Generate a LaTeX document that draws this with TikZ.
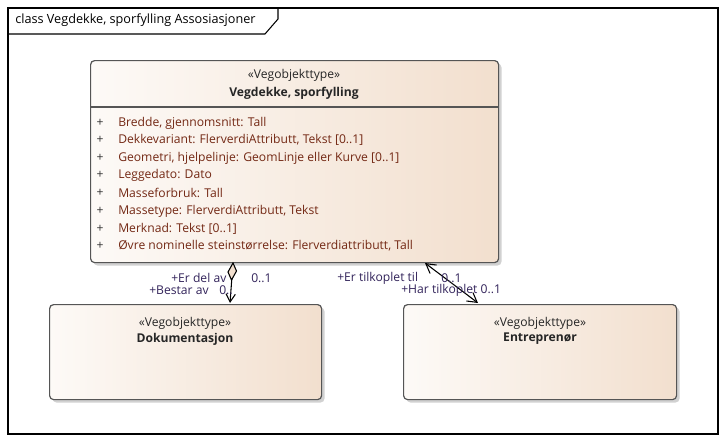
\documentclass[tikz,border=0pt]{standalone}
\usepackage{fontspec}
\setmainfont{Open Sans}
\usetikzlibrary{arrows.meta,shadows,shapes.geometric}
\definecolor{boxr}{RGB}{242,223,206}
\definecolor{boxl}{RGB}{253,250,247}
\definecolor{attrc}{RGB}{115,40,20}
\definecolor{labc}{RGB}{50,35,90}
\definecolor{edgec}{RGB}{85,85,85}
\tikzset{
  classbox/.style={draw=edgec, line width=0.9pt, rounded corners=3pt, left color=boxl, right color=boxr,
    drop shadow={shadow xshift=2.2pt, shadow yshift=-2.2pt, fill=black!30, opacity=0.6}, anchor=north west, inner sep=0pt},
  stereo/.style={font=\fontsize{9.1}{11}\selectfont, text=black!85, inner sep=0pt},
  cname/.style={font=\fontsize{9.1}{11}\bfseries\selectfont, text=black!85, inner sep=0pt},
  attr/.style={font=\fontsize{9.1}{11}\selectfont, text=attrc, anchor=west, inner sep=0pt},
  plus/.style={font=\fontsize{9.1}{11}\selectfont, text=black!80, anchor=center, inner sep=0pt},
  lab/.style={font=\fontsize{9.1}{11}\selectfont, text=labc, anchor=west, inner sep=0pt},
  conn/.style={draw=black, line width=0.8pt},
}
\begin{document}
\begin{tikzpicture}[x=0.75pt,y=-0.75pt]
\useasboundingbox (0,0) rectangle (726,444);
% frame
\draw[black, line width=0.8pt] (8,8) rectangle (718,434);
\draw[black, line width=0.8pt] (8,34) -- (265,34) -- (278,19) -- (278,8);
\node[anchor=west, inner sep=0pt, font=\fontsize{9.5}{11}\selectfont] (title) at (15,20) {class Vegdekke, sporfylling Assosiasjoner};

% main class
\node[classbox, minimum width=306pt, minimum height=151.5pt] (main) at (90,60) {};
\node[stereo] (mst) at (294,75) {«Vegobjekttype»};
\node[cname] (mnm) at (294,93) {Vegdekke, sporfylling};
\draw[edgec, line width=0.8pt] (main.west |- 0,107) -- (main.east |- 0,107);
\foreach \y/\t [count=\i] in {123/{Bredde, gjennomsnitt: Tall},
  140/{Dekkevariant: FlerverdiAttributt, Tekst [0..1]},
  158/{Geometri, hjelpelinje: GeomLinje eller Kurve [0..1]},
  175/{Leggedato: Dato},
  193/{Masseforbruk: Tall},
  211/{Massetype: FlerverdiAttributt, Tekst},
  229/{Merknad: Tekst [0..1]},
  246/{Øvre nominelle steinstørrelse: Flerverdiattributt, Tall}} {
  \node[plus] (p\i) at (100,\y) {+};
  \node[attr] (a\i) at (118,\y) {\t};
}

% Dokumentasjon
\node[classbox, minimum width=204pt, minimum height=71.25pt] (doku) at (49,304) {};
\node[stereo] (dst) at (185,323) {«Vegobjekttype»};
\node[cname] (dnm) at (185,339) {Dokumentasjon};

% Entreprenor
\node[classbox, minimum width=204.75pt, minimum height=71.25pt] (entr) at (403,304) {};
\node[stereo] (est) at (540,323) {«Vegobjekttype»};
\node[cname] (enm) at (540,339) {Entreprenør};

% connector left
\coordinate (c1a) at (233,263);
\coordinate (c1b) at (230,303);
\draw[conn, -{Straight Barb[length=6pt,width=7pt]}] (c1a) -- (c1b);
\draw[line width=0.8pt, fill=boxr] (233,263) -- (236.5,271) -- (231.5,280) -- (228,272) -- cycle;

% connector right
\coordinate (c2a) at (425,263);
\coordinate (c2b) at (478,303);
\draw[conn, {Straight Barb[length=7pt,width=8pt]}-{Straight Barb[length=7pt,width=8pt]}] (c2a) -- (c2b);

% labels
\node[lab] (l1) at (171,278) {+Er del av};
\node[lab] (l2) at (251,278) {0..1};
\node[lab] (l3) at (149,290) {+Bestar av};
\node[lab] (l4) at (219,290) {0..};
\node[lab] (l5) at (337,278) {+Er tilkoplet til};
\node[lab] (l6) at (441,278) {0..1};
\node[lab] (l7) at (401,290) {+Har tilkoplet 0..1};
\end{tikzpicture}
\end{document}
